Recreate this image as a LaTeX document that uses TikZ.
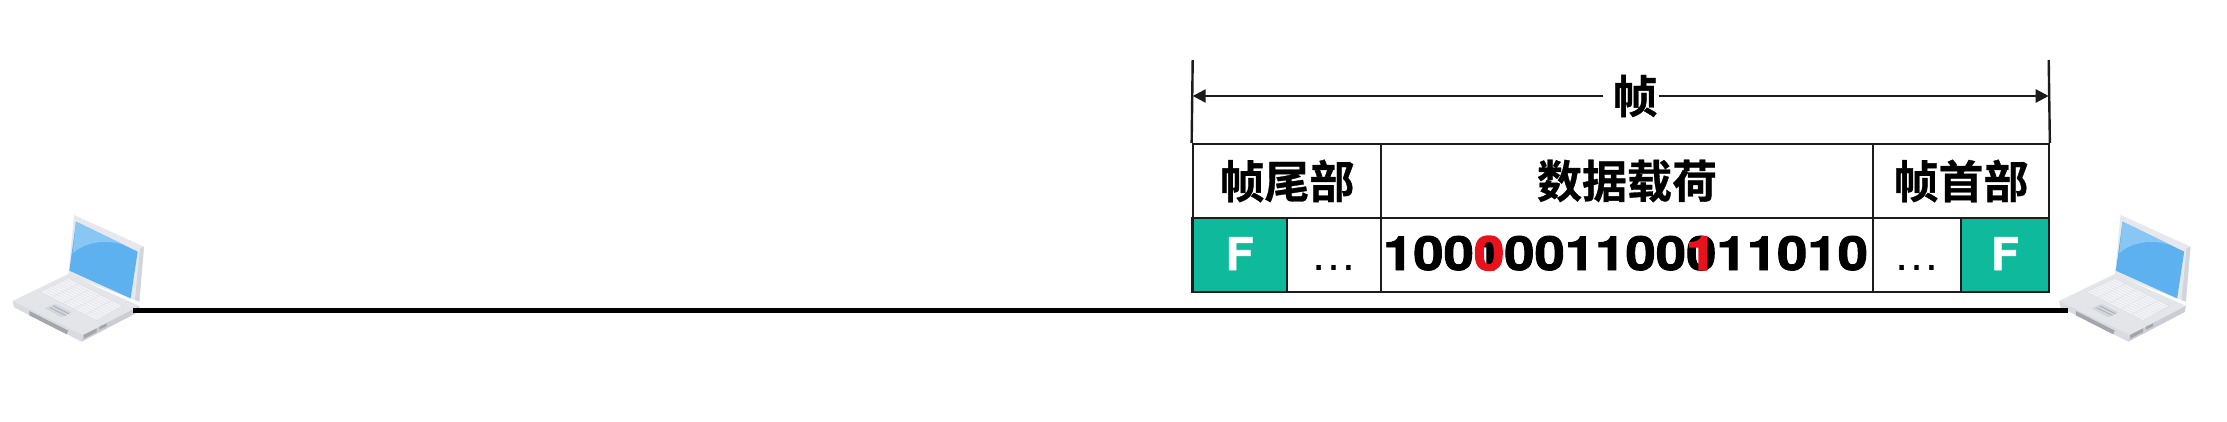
\documentclass[tikz,border=0pt]{standalone}
\usepackage{fontspec}
\usetikzlibrary{arrows.meta,calc}
\newfontfamily\cjkbold[BoldFont=* Bold,BoldFeatures={FakeBold=0.7}]{Noto Sans CJK SC}
\newfontfamily\digitfont[BoldFeatures={FakeStretch=1.16,FakeBold=2}]{TeX Gyre Heros}
\newfontfamily\digitheavy[BoldFeatures={FakeStretch=1.16,FakeBold=3}]{TeX Gyre Heros}
\newfontfamily\flagfont[BoldFeatures={FakeBold=1.5}]{TeX Gyre Heros}
\newfontfamily\latinfont{Liberation Sans}
\definecolor{teal}{HTML}{0FB99B}
\definecolor{frameline}{HTML}{1C1C1C}
\definecolor{marker}{HTML}{E8121C}
\definecolor{lidface}{HTML}{E6E8EE}
\definecolor{lidedge}{HTML}{D2D5DC}
\definecolor{screenblue}{HTML}{5CB1EE}
\definecolor{screenlight}{HTML}{88C6F4}
\definecolor{basetop}{HTML}{E4E5E9}
\definecolor{baseleft}{HTML}{D9DBE0}
\definecolor{baseright}{HTML}{CACDD3}
\definecolor{portgray}{HTML}{A3A7AC}
\definecolor{keybed}{HTML}{F2F3F6}
\definecolor{keyline}{HTML}{DFE1E6}
\newcommand{\redover}[2]{\rlap{#1}{\digitheavy\bfseries\fontsize{47}{47}\selectfont\textcolor{marker}{#2}}}
\newcommand{\laptopshape}{%
  \fill[lidface] (222,45) -- (432,140) -- (418,305) -- (205,225) -- cycle;
  \fill[lidedge] (432,140) -- (420,145) -- (405,300) -- (418,305) -- cycle;
  \fill[screenblue] (228,65) -- (413,155) -- (392,295) -- (208,212) -- cycle;
  \fill[screenlight] (228,65) -- (372,135) .. controls (310,115) and (250,130) .. (218,160) -- cycle;
  \fill[basetop] (38,303) -- (205,222) -- (418,318) -- (250,405) -- cycle;
  \fill[baseleft] (38,303) -- (250,405) -- (245,425) -- (42,322) -- cycle;
  \fill[baseright] (250,405) -- (418,318) -- (415,336) -- (245,425) -- cycle;
  \fill[portgray] (88,333) -- (205,392) -- (200,403) -- (88,346) -- cycle;
  \fill[portgray] (250,405) -- (290,385) -- (290,396) -- (252,416) -- cycle;
  \fill[portgray] (298,380) -- (320,370) -- (320,379) -- (298,389) -- cycle;
  \filldraw[fill=keybed,draw=keyline,line width=0.7pt] (120,275) -- (205,235) -- (368,318) -- (290,362) -- cycle;
  \foreach \t in {0.2,0.4,0.6,0.8}{
    \draw[keyline,line width=0.4pt] ($(120,275)!\t!(290,362)$) -- ($(205,235)!\t!(368,318)$);
  }
  \foreach \t in {0.1,0.2,...,0.9}{
    \draw[keyline,line width=0.4pt] ($(120,275)!\t!(205,235)$) -- ($(290,362)!\t!(368,318)$);
  }
  \fill[lidedge] (135,325) -- (165,312) -- (215,337) -- (185,352) -- cycle;
  \draw[portgray,line width=0.6pt] (150,323) -- (198,347) (160,318) -- (208,342);
}
\tikzset{
  cell/.style={draw=frameline,line width=2.2pt,inner sep=0pt,anchor=center,minimum height=74pt},
  headcell/.style={cell,font=\cjkbold\bfseries\fontsize{45}{45}\selectfont,text=black},
  bodycell/.style={cell,text height=30pt,text depth=0pt},
  flagcell/.style={bodycell,fill=teal,text=white,font=\flagfont\bfseries\fontsize{45}{45}\selectfont},
  dotscell/.style={bodycell,font=\latinfont\fontsize{47}{47}\selectfont},
  digits/.style={font=\digitfont\bfseries\fontsize{47}{47}\selectfont},
  framerule/.style={draw=frameline,line width=2.4pt},
  span/.style={framerule,-{Stealth[length=13pt,width=13pt,inset=0pt]}},
  cable/.style={draw=black,line width=5pt},
}
\begin{document}
\begin{tikzpicture}[x=1pt,y=-1pt]
\useasboundingbox (0,0) rectangle (2227,422);
\fill[white] (0,0) rectangle (2227,422);

\begin{scope}[shift={(0,200)},x=0.3333pt,y=-0.3333pt]
  \laptopshape
\end{scope}
\begin{scope}[shift={(2046.5,200)},x=0.3333pt,y=-0.3333pt]
  \laptopshape
\end{scope}
\coordinate (pcleft) at (133,310);
\coordinate (pcright) at (2068,310);
\draw[cable] (pcleft) -- (pcright);

% table
\node[headcell,minimum width=188.5pt] (tailhead) at (1287,181) {帧尾部};
\node[headcell,minimum width=492pt] (payloadhead) at (1627,181) {数据载荷};
\node[headcell,minimum width=175.5pt] (headhead) at (1961,181) {帧首部};
\node[flagcell,minimum width=94.5pt] (flagleft) at (1239.7,255) {F};
\node[dotscell,minimum width=94pt] (dotsleft) at (1334,255) {…};
\node[bodycell,digits,minimum width=492pt] (payload) at (1627,255) {\hspace*{-3pt}100\redover{1}{0}001100\redover{0}{1}11010};
\node[dotscell,minimum width=88pt] (dotsright) at (1917,255) {…};
\node[flagcell,minimum width=87.5pt] (flagright) at (2005,255) {F};

% frame span
\coordinate (tickltop) at (1192.7,60);
\coordinate (tickrtop) at (2048.7,60);
\coordinate (tickl) at (1192.7,96);
\coordinate (tickr) at (2048.7,96);
\draw[framerule] (tickltop) -- (tailhead.north west);
\draw[framerule] (tickrtop) -- (headhead.north east);
\node[font=\cjkbold\bfseries\fontsize{45}{45}\selectfont,inner sep=9pt] (frameword) at (1635,96) {帧};
\draw[span] (frameword) -- (tickl);
\draw[span,shorten <=-8pt] (frameword) -- (tickr);
\end{tikzpicture}
\end{document}
